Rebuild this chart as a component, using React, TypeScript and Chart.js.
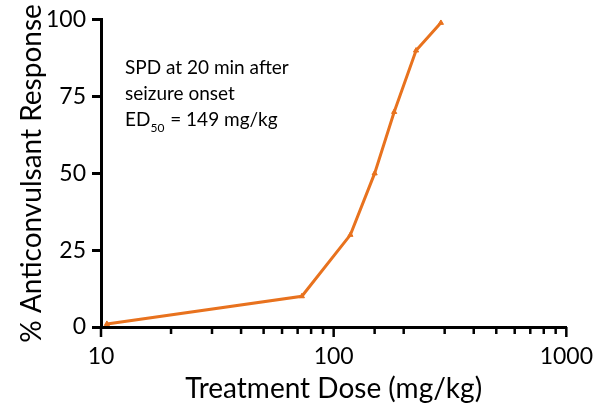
import React, { useEffect, useRef } from 'react';
import { Chart, registerables } from 'chart.js';

Chart.register(...registerables);

// Data
const doses = [10.6, 73, 118, 150, 182, 226, 289];
const responses = [1, 10, 30, 50, 70, 90, 99];
const xLabelValues = [10, 100, 1000];
const yTickStep = 25;
const xTitle = 'Treatment Dose (mg/kg)';
const yTitle = '% Anticonvulsant Response';
const noteLines = ['SPD at 20 min after', 'seizure onset'];
const edLabel = 'ED';
const edSub = '50';
const edValue = ' = 149 mg/kg';

const FONT = 'Lato, "Open Sans", "DejaVu Sans", sans-serif';
const ORANGE = '#E8721E';

export default function App() {
  const ref = useRef<HTMLCanvasElement>(null);

  useEffect(() => {
    if (!ref.current) return;

    const xTickPlugin = {
      id: 'xTickMarks',
      afterDraw(chart: any) {
        const xs = chart.scales.x;
        const ctx = chart.ctx;
        const y0 = xs.top;
        ctx.save();
        ctx.strokeStyle = '#000';
        ctx.lineWidth = 2.5;
        xs.ticks.forEach((t: any) => {
          const px = xs.getPixelForValue(t.value);
          const major = xLabelValues.includes(t.value);
          ctx.beginPath();
          ctx.moveTo(px, y0);
          ctx.lineTo(px, y0 + (major ? 10 : 7));
          ctx.stroke();
        });
        ctx.restore();
      },
    };

    const notePlugin = {
      id: 'note',
      afterDraw(chart: any) {
        const ctx = chart.ctx;
        const left = chart.chartArea.left + 24;
        const top = chart.chartArea.top;
        ctx.save();
        ctx.fillStyle = '#000';
        ctx.textBaseline = 'alphabetic';
        ctx.textAlign = 'left';
        ctx.font = `19px ${FONT}`;
        noteLines.forEach((s, i) => ctx.fillText(s, left, top + 54 + i * 26));
        const y3 = top + 54 + 2 * 26;
        ctx.fillText(edLabel, left, y3);
        let x = left + ctx.measureText(edLabel).width;
        ctx.font = `12px ${FONT}`;
        ctx.fillText(edSub, x, y3 + 6);
        x += ctx.measureText(edSub).width + 1;
        ctx.font = `19px ${FONT}`;
        ctx.fillText(edValue, x, y3);
        ctx.restore();
      },
    };

    const chart = new Chart(ref.current, {
      type: 'line',
      data: {
        datasets: [
          {
            data: doses.map((d, i) => ({ x: d, y: responses[i] })),
            borderColor: ORANGE,
            backgroundColor: ORANGE,
            borderWidth: 3,
            pointStyle: 'triangle',
            pointRadius: 3,
            pointBorderWidth: 1,
            tension: 0,
            fill: false,
          },
        ],
      },
      options: {
        animation: false,
        responsive: false,
        maintainAspectRatio: false,
        layout: { padding: { top: 17, right: 27, left: 0, bottom: 0 } },
        plugins: { legend: { display: false }, tooltip: { enabled: false } },
        scales: {
          x: {
            type: 'logarithmic',
            min: 10,
            max: 1000,
            grid: { display: false },
            border: { display: true, color: '#000', width: 3 },
            ticks: {
              autoSkip: false,
              maxRotation: 0,
              color: '#000',
              font: { family: FONT, size: 23 },
              padding: 8,
              callback: (v: any) => (xLabelValues.includes(Number(v)) ? String(v) : ''),
            },
            title: {
              display: true,
              text: xTitle,
              color: '#000',
              font: { family: FONT, size: 28 },
              padding: { top: 0, bottom: 10 },
            },
            afterFit: (s: any) => {
              s.height = 89;
            },
          },
          y: {
            min: 0,
            max: 100,
            grid: {
              drawOnChartArea: false,
              drawTicks: true,
              tickLength: 9,
              tickWidth: 3,
              color: '#000',
            },
            border: { display: true, color: '#000', width: 3 },
            ticks: {
              stepSize: yTickStep,
              color: '#000',
              font: { family: FONT, size: 23 },
              padding: 6,
            },
            title: {
              display: true,
              text: yTitle,
              color: '#000',
              font: { family: FONT, size: 28 },
              padding: { top: 15, bottom: 0 },
            },
            afterFit: (s: any) => {
              s.width = 101;
            },
          },
        },
      },
      plugins: [xTickPlugin, notePlugin],
    });

    return () => chart.destroy();
  }, []);

  return (
    <div style={{ position: 'fixed', left: 0, top: 0, width: 601, height: 416, background: '#fff' }}>
      <canvas ref={ref} width={601} height={416} style={{ width: 601, height: 416 }} />
    </div>
  );
}
